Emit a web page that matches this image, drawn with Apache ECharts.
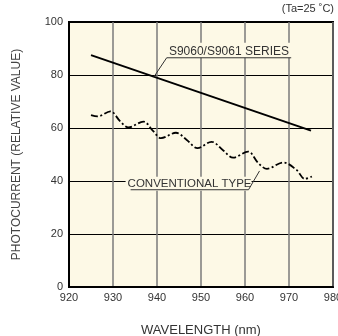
<!DOCTYPE html>
<html><head><meta charset="utf-8">
<script src="https://cdn.jsdelivr.net/npm/echarts@6/dist/echarts.min.js"></script>
<style>html,body{margin:0;padding:0;background:#fff}#c{width:338px;height:336px}</style>
</head><body><div id="c"></div>
<script>
var xTicks = [920, 930, 940, 950, 960, 970, 980];
var yTicks = [0, 20, 40, 60, 80, 100];
var seriesX = [925, 975];
var seriesY = [87.5, 59];
var convX = [925, 926.5, 929.4, 931.6, 933.5, 936.9, 939.2, 940.9, 944.3, 946.7, 949.2, 952.4, 955, 957.3, 960.7, 963, 965, 968.7, 971.7, 973.6, 975.2];
var convY = [64.9, 64.4, 66.3, 62.6, 60.2, 62.4, 58.7, 56.2, 58.2, 55.6, 52.4, 54.8, 51.6, 48.8, 51.1, 46.8, 44.6, 47, 44.2, 40.8, 41.7];
var label1 = 'S9060/S9061 SERIES';
var label2 = 'CONVENTIONAL TYPE';
var note = '(Ta=25 ˚C)';

var chart = echarts.init(document.getElementById('c'));
var font = 'Liberation Sans, Arial, sans-serif';
chart.setOption({
  animation: false,
  grid: {left: 69, right: 5, top: 22, bottom: 49, outerBoundsMode: 'none', containLabel: false, show: true, backgroundColor: '#fdf9e6', borderColor: '#000', borderWidth: 2},
  xAxis: {
    type: 'value', min: 920, max: 980, interval: 10,
    axisLine: {show: true, lineStyle: {color: '#000', width: 2}},
    axisTick: {show: false},
    axisLabel: {color: '#333', fontFamily: font, fontSize: 11, margin: 5, showMaxLabel: true},
    splitLine: {show: true, lineStyle: {color: '#7a7a7a', width: 1.5}},
    name: 'WAVELENGTH (nm)', nameLocation: 'middle', nameGap: 37,
    nameTextStyle: {color: '#333', fontFamily: font, fontSize: 13}
  },
  yAxis: {
    type: 'value', min: 0, max: 100, interval: 20,
    axisLine: {show: true, lineStyle: {color: '#000', width: 2}},
    axisTick: {show: false},
    axisLabel: {color: '#333', fontFamily: font, fontSize: 11, margin: 6},
    splitLine: {show: true, lineStyle: {color: '#000', width: 1}},
    name: 'PHOTOCURRENT (RELATIVE VALUE)', nameLocation: 'middle', nameGap: 46,
    nameTextStyle: {color: '#444', fontFamily: font, fontSize: 12}
  },
  series: [
    {type: 'line', data: seriesX.map(function(x, i){return [x, seriesY[i]];}), symbol: 'none',
     lineStyle: {color: '#000', width: 2}},
    {type: 'line', data: convX.map(function(x, i){return [x, convY[i]];}), symbol: 'none', smooth: 0.35,
     lineStyle: {color: '#000', width: 1.8, type: [7, 2.5, 2, 2.5]}}
  ]
});

function px(x, y){ return chart.convertToPixel({gridIndex: 0}, [x, y]); }
var a1 = px(939.3, 79.3), u1s = px(942.2, 86.5), u1e = px(970.5, 86.5);
var a2 = px(963.3, 43.8), u2e = px(960.8, 36.7), u2s = px(934, 36.7);
chart.setOption({
  graphic: [
    {type: 'rect', shape: {x: u1s[0] - 2, y: u1s[1] - 15, width: u1e[0] - u1s[0] + 4, height: 15}, style: {fill: '#fdf9e6'}, z: 50},
    {type: 'text', style: {x: (u1s[0] + u1e[0]) / 2, y: u1s[1], text: label1, textAlign: 'center', textVerticalAlign: 'bottom', font: '12px ' + font, fill: '#333'}, z: 51},
    {type: 'polyline', shape: {points: [a1, u1s, u1e]}, style: {stroke: '#333', lineWidth: 1, fill: null}, z: 51},
    {type: 'rect', shape: {x: u2s[0] - 5, y: u2s[1] - 13, width: u2e[0] - u2s[0] + 8, height: 14}, style: {fill: '#fdf9e6'}, z: 50},
    {type: 'text', style: {x: (u2s[0] + u2e[0]) / 2, y: u2s[1], text: label2, textAlign: 'center', textVerticalAlign: 'bottom', font: '11.5px ' + font, fill: '#333'}, z: 51},
    {type: 'polyline', shape: {points: [u2s, u2e, a2]}, style: {stroke: '#333', lineWidth: 1, fill: null}, z: 51},
    {type: 'text', style: {x: 334, y: 14, text: note, textAlign: 'right', textVerticalAlign: 'bottom', font: '11px ' + font, fill: '#333'}, z: 51}
  ]
});
</script></body></html>
